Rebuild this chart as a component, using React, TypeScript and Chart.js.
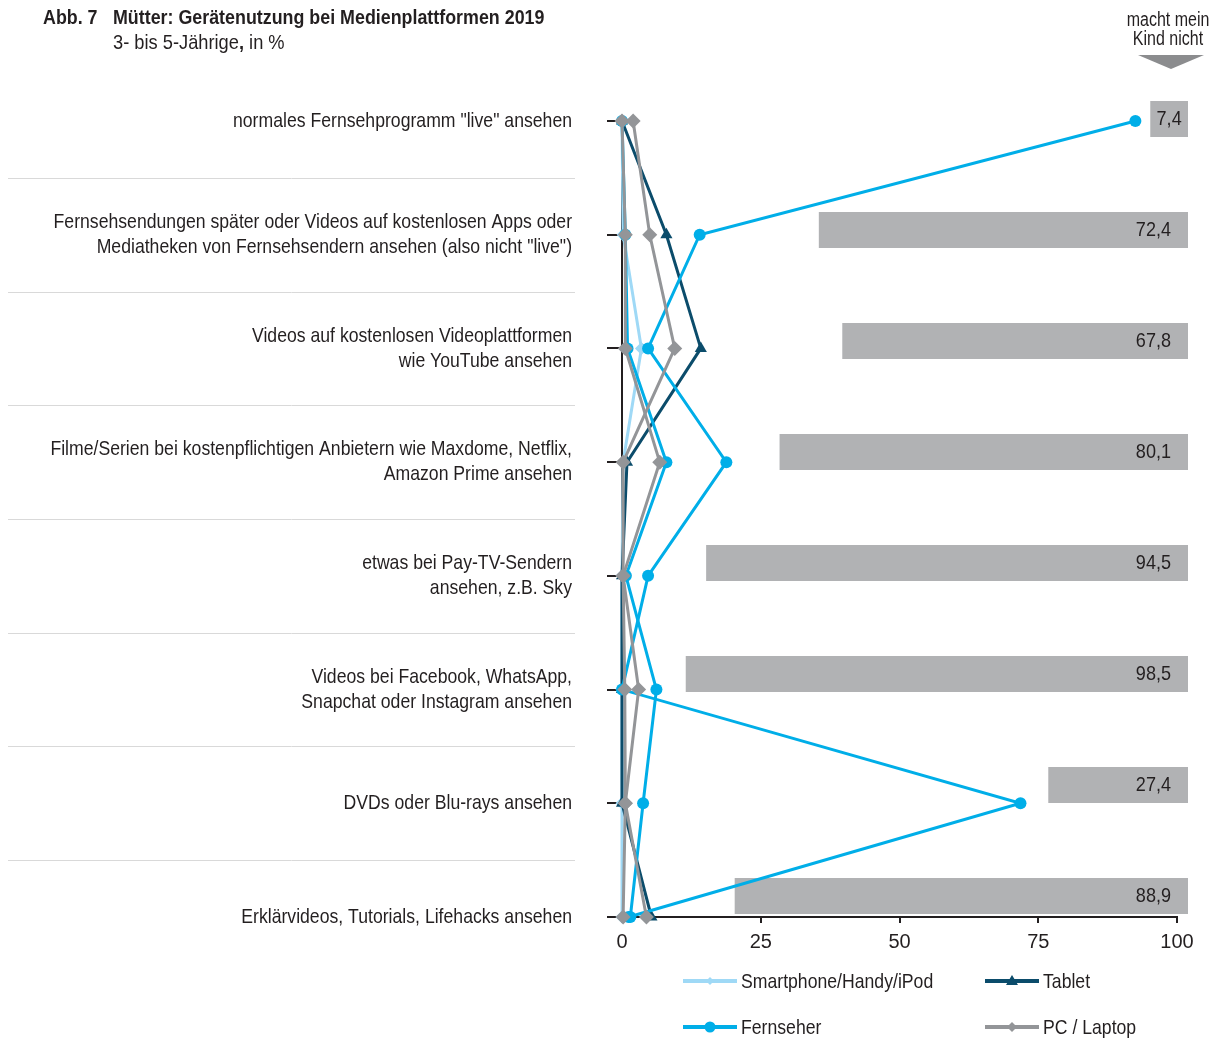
import React, { useEffect, useRef } from "react";
import { Chart, registerables } from "chart.js";

Chart.register(...registerables);

const FONT = '"Liberation Sans", Arial, Helvetica, sans-serif';
const TEXT = "#231f20";
const SX = 0.84; // horizontal condensing of the text (reference uses a condensed face)

const categories: string[][] = [
  ['normales Fernsehprogramm "live" ansehen'],
  ["Fernsehsendungen später oder Videos auf kostenlosen Apps oder", 'Mediatheken von Fernsehsendern ansehen (also nicht "live")'],
  ["Videos auf kostenlosen Videoplattformen", "wie YouTube ansehen"],
  ["Filme/Serien bei kostenpflichtigen Anbietern wie Maxdome, Netflix,", "Amazon Prime ansehen"],
  ["etwas bei Pay-TV-Sendern", "ansehen, z.B. Sky"],
  ["Videos bei Facebook, WhatsApp,", "Snapchat oder Instagram ansehen"],
  ["DVDs oder Blu-rays ansehen"],
  ["Erklärvideos, Tutorials, Lifehacks ansehen"],
];

const smartphone = [0, 0.2, 3.5, 0.2, 0, 0, 0, 0];
const tablet = [0, 8.0, 14.2, 0.9, 0, 0, 0, 5.3];
const fernseher = [92.5, 14.0, 4.7, 18.8, 4.7, 0, 71.8, 1.2];
const pcLaptop = [2.0, 5.0, 9.5, 0.2, 0.2, 3.0, 0.6, 4.4];
// two further series whose legend entries are cut off in the reference
const weitereBlau = [0, 0.6, 1.0, 8.0, 0.7, 6.2, 3.8, 1.5];
const weitereGrau = [0, 0.6, 0.6, 6.8, 0.2, 0.5, 0.6, 0.2];
const machtNicht = [7.4, 72.4, 67.8, 80.1, 94.5, 98.5, 27.4, 88.9];
const xTicks = [0, 25, 50, 75, 100];

const C_LIGHT = "#9fd9f6";
const C_NAVY = "#0b4c6b";
const C_BLUE = "#00aee8";
const C_GRAY = "#939598";
const C_BAR = "#b1b2b4";

const pts = (arr: number[]) => arr.map((v, i) => ({ x: v, y: i }));
const fmt = (v: number) => v.toFixed(1).replace(".", ",");

const barLabels = {
  id: "barLabels",
  afterDatasetsDraw(chart: any) {
    const ctx = chart.ctx;
    chart.data.datasets.forEach((ds: any, di: number) => {
      if (ds.type !== "bar") return;
      const meta = chart.getDatasetMeta(di);
      ctx.save();
      ctx.font = `21px ${FONT}`;
      ctx.fillStyle = TEXT;
      ctx.textBaseline = "middle";
      meta.data.forEach((el: any, i: number) => {
        const txt = fmt(machtNicht[i]);
        const w = ctx.measureText(txt).width * 0.86;
        const right = Math.max(el.x, el.base);
        const left = Math.min(el.x, el.base);
        let xr = right - 17;
        if (right - left < w + 30) xr = (right + left) / 2 + w / 2;
        ctx.save();
        ctx.translate(xr, el.y);
        ctx.scale(0.86, 1);
        ctx.textAlign = "right";
        ctx.fillText(txt, 0, 0);
        ctx.restore();
      });
      ctx.restore();
    });
  },
};

const yLabels = {
  id: "yLabels",
  afterDraw(chart: any) {
    const ctx = chart.ctx;
    const y = chart.scales.y;
    const xRight = y.right - 50;
    ctx.save();
    ctx.font = `21px ${FONT}`;
    ctx.fillStyle = TEXT;
    ctx.textAlign = "right";
    ctx.textBaseline = "middle";
    categories.forEach((lines, i) => {
      const yc = y.getPixelForValue(i);
      lines.forEach((t, j) => {
        const ty = yc + (j - (lines.length - 1) / 2) * 25;
        ctx.save();
        ctx.translate(xRight, ty);
        ctx.scale(SX, 1);
        ctx.fillText(t, 0, 0);
        ctx.restore();
      });
    });
    ctx.restore();
  },
};

const separators = {
  id: "separators",
  beforeDraw(chart: any) {
    const ctx = chart.ctx;
    const y = chart.scales.y;
    ctx.save();
    ctx.strokeStyle = "#d9d9d9";
    ctx.lineWidth = 1;
    for (let i = 0; i < categories.length - 1; i++) {
      const p = Math.round(y.getPixelForValue(i + 0.5)) + 0.5;
      ctx.beginPath();
      ctx.moveTo(8, p);
      ctx.lineTo(575, p);
      ctx.stroke();
    }
    ctx.restore();
  },
};

function lineDs(label: string, data: number[], color: string, style: string, radius: number, order: number) {
  return {
    type: "line" as const,
    label,
    data: pts(data),
    xAxisID: "x",
    yAxisID: "y",
    borderColor: color,
    backgroundColor: color,
    borderWidth: 3,
    pointStyle: style,
    pointRadius: radius,
    pointHoverRadius: radius,
    pointBorderWidth: 0,
    pointBackgroundColor: color,
    tension: 0,
    clip: false as const,
    order,
  };
}

function LegendMark({ color, kind }: { color: string; kind: string }) {
  let marker: any = null;
  if (kind === "diamond") marker = <polygon points="27,3 32,8 27,13 22,8" fill={color} />;
  if (kind === "diamondSmall") marker = <polygon points="27,4 31,8 27,12 23,8" fill={color} />;
  if (kind === "triangle") marker = <polygon points="27,2 33,12 21,12" fill={color} />;
  if (kind === "circle") marker = <circle cx="27" cy="8" r="5.5" fill={color} />;
  return (
    <svg width="54" height="16" style={{ display: "block" }}>
      <line x1="0" y1="8" x2="54" y2="8" stroke={color} strokeWidth="4" />
      {marker}
    </svg>
  );
}

const legendItems = [
  { label: "Smartphone/Handy/iPod", color: C_LIGHT, kind: "diamondSmall", left: 683, top: 981 },
  { label: "Tablet", color: C_NAVY, kind: "triangle", left: 985, top: 981 },
  { label: "Fernseher", color: C_BLUE, kind: "circle", left: 683, top: 1027 },
  { label: "PC / Laptop", color: C_GRAY, kind: "diamond", left: 985, top: 1027 },
];

const indexTicks = (s: any) => {
  s.ticks = categories.map((_, i) => ({ value: i }));
};

export default function App() {
  const ref = useRef<HTMLCanvasElement | null>(null);

  useEffect(() => {
    if (!ref.current) return;
    const chart = new Chart(ref.current, {
      type: "line",
      data: {
        datasets: [
          lineDs("PC / Laptop", pcLaptop, C_GRAY, "rectRot", 7.5, 1),
          lineDs("weiteres Gerät (grau)", weitereGrau, C_GRAY, "rectRot", 7.5, 2),
          lineDs("Fernseher", fernseher, C_BLUE, "circle", 6, 3),
          lineDs("weiteres Gerät (blau)", weitereBlau, C_BLUE, "circle", 6, 4),
          lineDs("Tablet", tablet, C_NAVY, "triangle", 7, 5),
          lineDs("Smartphone/Handy/iPod", smartphone, C_LIGHT, "rectRot", 6.5, 6),
          {
            type: "bar",
            label: "macht mein Kind nicht",
            data: machtNicht.map((v, i) => ({ x: [0, v], y: i })),
            xAxisID: "xb",
            yAxisID: "yb",
            indexAxis: "y",
            backgroundColor: C_BAR,
            borderWidth: 0,
            grouped: false,
            categoryPercentage: 1,
            barPercentage: 0.33,
            maxBarThickness: 36,
            clip: false,
            order: 10,
          } as any,
        ],
      },
      options: {
        animation: false,
        responsive: false,
        events: [],
        layout: { padding: { top: 121, bottom: 82, left: 0, right: 41 } },
        plugins: { legend: { display: false }, tooltip: { enabled: false }, title: { display: false } },
        scales: {
          x: {
            type: "linear",
            position: "bottom",
            min: 0,
            max: 100,
            afterBuildTicks: (s: any) => {
              s.ticks = xTicks.map((v) => ({ value: v }));
            },
            afterFit: (s: any) => {
              s.height = 40;
            },
            grid: { drawOnChartArea: false, drawTicks: true, tickLength: 6, color: TEXT, lineWidth: 2 },
            border: { display: true, color: TEXT, width: 2 },
            ticks: { font: { family: FONT, size: 20 }, color: TEXT, padding: 7, maxRotation: 0 },
          },
          xb: {
            type: "linear",
            display: false,
            reverse: true,
            offset: false,
            min: 2.157,
            max: 111.0,
          },
          y: {
            type: "linear",
            position: "left",
            reverse: true,
            min: 0,
            max: 7,
            afterBuildTicks: indexTicks,
            afterFit: (s: any) => {
              s.width = 622;
            },
            grid: { drawOnChartArea: false, drawTicks: true, tickLength: 15, color: TEXT, lineWidth: 2 },
            border: { display: true, color: TEXT, width: 2 },
            ticks: { display: false, autoSkip: false },
          },
          yb: {
            type: "linear",
            position: "left",
            display: false,
            reverse: true,
            offset: false,
            min: 0.018,
            max: 7.189,
            afterBuildTicks: indexTicks,
          },
        } as any,
      },
      plugins: [separators, barLabels, yLabels],
    } as any);
    return () => chart.destroy();
  }, []);

  const textBase: React.CSSProperties = {
    position: "absolute",
    fontFamily: FONT,
    color: TEXT,
    whiteSpace: "nowrap",
  };

  return (
    <div style={{ position: "absolute", left: 0, top: 0, width: 1218, height: 1039, overflow: "hidden", background: "#fff" }}>
      <canvas ref={ref} width={1218} height={1039} style={{ position: "absolute", left: 0, top: 0 }} />
      <div style={{ ...textBase, left: 43, top: 6, fontSize: 21, lineHeight: "22px", fontWeight: "bold", transform: "scaleX(0.85)", transformOrigin: "left center" }}>
        Abb. 7
      </div>
      <div style={{ ...textBase, left: 113, top: 6, fontSize: 21, lineHeight: "22px", fontWeight: "bold", transform: "scaleX(0.85)", transformOrigin: "left center" }}>
        Mütter: Gerätenutzung bei Medienplattformen 2019
      </div>
      <div style={{ ...textBase, left: 113, top: 31, fontSize: 21, lineHeight: "22px", transform: "scaleX(0.87)", transformOrigin: "left center" }}>
        3- bis 5-Jährige<b>,</b> in %
      </div>
      <div style={{ ...textBase, left: 1098, top: 10, width: 140, textAlign: "center", fontSize: 20, lineHeight: "19px", transform: "scaleX(0.8)", transformOrigin: "center center" }}>
        macht mein
        <br />
        Kind nicht
      </div>
      <div
        style={{
          position: "absolute",
          left: 1138,
          top: 55,
          width: 0,
          height: 0,
          borderLeft: "33px solid transparent",
          borderRight: "33px solid transparent",
          borderTop: "14px solid #8b8c8e",
        }}
      />
      {legendItems.map((it) => (
        <div key={it.label} style={{ position: "absolute", left: it.left, top: it.top - 12, height: 24, display: "flex", alignItems: "center" }}>
          <LegendMark color={it.color} kind={it.kind} />
          <span
            style={{
              fontFamily: FONT,
              fontSize: 21,
              color: TEXT,
              marginLeft: 4,
              lineHeight: "24px",
              whiteSpace: "nowrap",
              display: "inline-block",
              transform: `scaleX(${SX})`,
              transformOrigin: "left center",
            }}
          >
            {it.label}
          </span>
        </div>
      ))}
    </div>
  );
}
